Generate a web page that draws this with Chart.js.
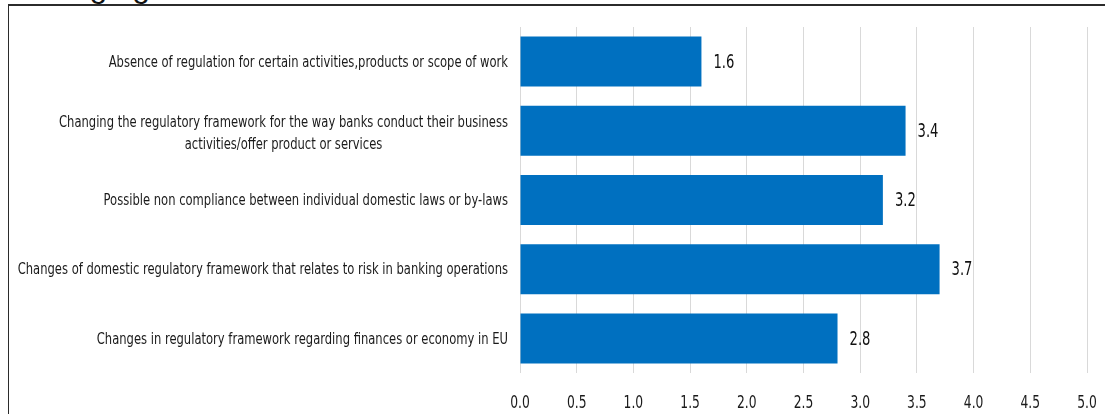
<!DOCTYPE html>
<html>
<head>
<meta charset="utf-8">
<title>Regulatory risk factors</title>
<script src="https://cdn.jsdelivr.net/npm/chart.js@4/dist/chart.umd.min.js"></script>
<style>
  body { margin: 0; background: #fff; overflow: hidden; }
  #frame { position: absolute; left: 8px; top: 4px; width: 1105px; height: 420px;
           border-top: 2px solid #2b2b2b; border-left: 1px solid #2b2b2b; }
  #heading { position: absolute; left: 13px; top: -30px; font: 32px/32px "Liberation Sans", Arial, sans-serif;
             color: #111; white-space: nowrap; }
  #wrap { position: absolute; left: 0; top: 0; width: 1105px; height: 414px; }
</style>
</head>
<body>
<div id="frame"></div>
<div id="heading">Changing</div>
<div id="wrap"><canvas id="bar-chart"></canvas></div>
<script>
var categories = [
    ["Absence of regulation for certain activities,products or scope of work"],
    ["Changing the regulatory framework for the way banks conduct their business",
     "activities/offer product or services"],
    ["Possible non compliance between individual domestic laws or by-laws"],
    ["Changes of domestic regulatory framework that relates to risk in banking operations"],
    ["Changes in regulatory framework regarding finances or economy in EU"]
];
var scores = [1.6, 3.4, 3.2, 3.7, 2.8];
var xTickLabels = ["0.0", "0.5", "1.0", "1.5", "2.0", "2.5", "3.0", "3.5", "4.0", "4.5", "5.0"];

var narrow = "'Liberation Sans Narrow', 'DejaVu Sans Condensed', sans-serif";

// text squeezed sideways, the way the labels are set
function squeezedText(ctx, text, x, y, sx) {
    ctx.save();
    ctx.translate(x, y);
    ctx.scale(sx, 1);
    ctx.fillText(text, 0, 0);
    ctx.restore();
}

// category names, right aligned, extra lines centred under the first one
var categoryLabels = {
    id: 'categoryLabels',
    afterDraw: function (chart) {
        var ctx = chart.ctx;
        var yScale = chart.scales.y;
        var right = chart.chartArea.left - 12;
        var sx = 0.803;
        var lineH = 22;
        ctx.save();
        ctx.font = "16px " + narrow;
        ctx.fillStyle = '#1a1a1a';
        ctx.textAlign = 'center';
        ctx.textBaseline = 'middle';
        categories.forEach(function (lines, i) {
            var py = yScale.getPixelForTick(i) + 1;
            if (lines.length > 1) py += 2;
            var w = sx * Math.max.apply(null, lines.map(function (l) { return ctx.measureText(l).width; }));
            lines.forEach(function (line, j) {
                squeezedText(ctx, line, right - w / 2, py + (j - (lines.length - 1) / 2) * lineH, sx);
            });
        });
        ctx.restore();
    }
};

// value printed just past the end of each bar
var barValues = {
    id: 'barValues',
    afterDatasetsDraw: function (chart) {
        var ctx = chart.ctx;
        var meta = chart.getDatasetMeta(0);
        ctx.save();
        ctx.font = "20px " + narrow;
        ctx.fillStyle = '#111';
        ctx.textAlign = 'left';
        ctx.textBaseline = 'middle';
        meta.data.forEach(function (bar, i) {
            squeezedText(ctx, scores[i].toFixed(1), bar.x + 12, bar.y + 1, 0.73);
        });
        ctx.restore();
    }
};

// x axis numbers under each grid line
var xAxisLabels = {
    id: 'xAxisLabels',
    afterDraw: function (chart) {
        var ctx = chart.ctx;
        var xScale = chart.scales.x;
        var y = chart.chartArea.bottom + 30;
        ctx.save();
        ctx.font = "18px " + narrow;
        ctx.fillStyle = '#1a1a1a';
        ctx.textAlign = 'center';
        ctx.textBaseline = 'middle';
        xTickLabels.forEach(function (t) {
            squeezedText(ctx, t, xScale.getPixelForValue(parseFloat(t)), y, 0.76);
        });
        ctx.restore();
    }
};

var ctx = document.getElementById("bar-chart");
var barChart = new Chart(ctx, {
    type: 'bar',
    data: {
        labels: categories,
        datasets: [{
            data: scores,
            backgroundColor: '#0070c0',
            borderWidth: 0,
            barPercentage: 0.723,
            categoryPercentage: 1
        }]
    },
    options: {
        indexAxis: 'y',
        responsive: true,
        maintainAspectRatio: false,
        animation: false,
        layout: { padding: { top: 27, right: 18, left: 0, bottom: 0 } },
        plugins: { legend: { display: false }, tooltip: { enabled: false } },
        scales: {
            x: {
                min: 0,
                max: 5,
                ticks: { stepSize: 0.5, display: false },
                grid: { color: '#d9d9d9', drawTicks: false },
                border: { display: false },
                afterFit: function (s) { s.height = 41; }
            },
            y: {
                ticks: { display: false },
                grid: { display: false },
                border: { display: false },
                afterFit: function (s) { s.width = 520; }
            }
        }
    },
    plugins: [categoryLabels, barValues, xAxisLabels]
});
</script>
</body>
</html>
